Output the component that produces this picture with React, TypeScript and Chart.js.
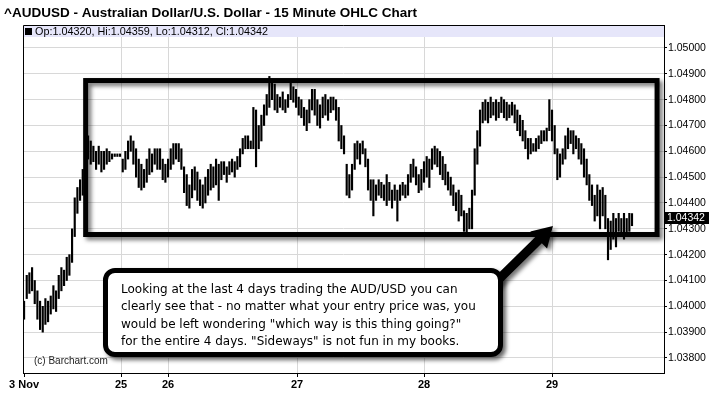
import React, { useEffect, useRef } from "react";
import { Chart, registerables } from "chart.js";

Chart.register(...registerables);

const chartTitle = "^AUDUSD - Australian Dollar/U.S. Dollar - 15 Minute OHLC Chart";
const copyright = "(c) Barchart.com";

// x positions are bar indices (each bar ~ 30 minutes)
const dayTickPos = [0, 36.4, 54, 102.4, 150, 198];
const dayTickLabels = ["3 Nov", "25", "26", "27", "28", "29"];

const priceTicks = [1.038, 1.039, 1.04, 1.041, 1.042, 1.043, 1.044, 1.045, 1.046, 1.047, 1.048, 1.049, 1.05];
const yMin = 1.037419;
const yMax = 1.05089;

const highs = [
  1.0402, 1.0412, 1.0413, 1.0415, 1.041, 1.0406, 1.0402, 1.04, 1.0403, 1.0402,
  1.0404, 1.0408, 1.0406, 1.0412, 1.0415, 1.0414, 1.0419, 1.042, 1.043, 1.0442,
  1.0446, 1.0449, 1.0453, 1.0464, 1.0466, 1.0464, 1.0462, 1.046, 1.0462, 1.046,
  1.046, 1.0461, 1.046, 1.0459, 1.0459, 1.0459, 1.0459,
  1.0457, 1.046, 1.0464, 1.0466, 1.0464, 1.0461, 1.0457, 1.0455, 1.0453, 1.0457,
  1.0461, 1.0459, 1.0461, 1.0461, 1.0461, 1.0457, 1.0455,
  1.0457, 1.0461, 1.0463, 1.0463, 1.0463, 1.0461, 1.0454, 1.0451, 1.0447, 1.0453,
  1.0454, 1.0452, 1.0449, 1.0447, 1.045, 1.0453, 1.0455, 1.0454, 1.0457, 1.0455,
  1.0456, 1.0456, 1.0454, 1.0456, 1.0457, 1.0456, 1.0458, 1.0461, 1.0465, 1.0466,
  1.0466, 1.0464, 1.0477, 1.0476, 1.047, 1.0474, 1.0478, 1.0482, 1.0489, 1.0488,
  1.0486, 1.0482, 1.0481, 1.0483, 1.048, 1.0482, 1.0487, 1.0485, 1.0484,
  1.0481, 1.048, 1.0477, 1.0476, 1.048, 1.0484, 1.0484, 1.048, 1.0478, 1.0481,
  1.0482, 1.048, 1.0481, 1.0481, 1.048, 1.0477, 1.047, 1.0466, 1.0455, 1.0451,
  1.0455, 1.0463, 1.0464, 1.0463, 1.0464, 1.0461, 1.0457, 1.0449, 1.0449, 1.0447,
  1.0449, 1.0448, 1.0447, 1.0451, 1.0448, 1.0445, 1.0447, 1.0445, 1.0447, 1.0448,
  1.0447, 1.0451, 1.0455, 1.0457, 1.0454, 1.0451, 1.0453,
  1.0456, 1.0458, 1.0457, 1.0461, 1.0462, 1.0461, 1.046, 1.0458, 1.0455, 1.0452,
  1.045, 1.0447, 1.0444, 1.0445, 1.0443, 1.0437, 1.0436, 1.0438, 1.0445, 1.0461,
  1.0468, 1.0476, 1.0479, 1.048, 1.0479, 1.0481, 1.0479, 1.048, 1.0479, 1.0481,
  1.048, 1.0479, 1.0478, 1.0479, 1.0478, 1.0476, 1.0474, 1.0472, 1.0468, 1.0465,
  1.0465, 1.0463, 1.0465, 1.0466, 1.0468, 1.0468, 1.0469, 1.048,
  1.0476, 1.047, 1.0461, 1.0459, 1.0461, 1.0466, 1.0469, 1.0468, 1.0468, 1.0466,
  1.0465, 1.0463, 1.0461, 1.0457, 1.0451, 1.0447, 1.0443, 1.0447, 1.0445, 1.0446,
  1.0443, 1.0434, 1.0433, 1.0436, 1.0434, 1.0436, 1.0434, 1.0436, 1.0434, 1.0436,
  1.04359,
];

const lows = [
  1.0395, 1.0403, 1.0405, 1.0406, 1.0401, 1.0395, 1.0391, 1.039, 1.0393, 1.0394,
  1.0397, 1.0399, 1.0398, 1.0403, 1.0406, 1.0408, 1.041, 1.0412, 1.0417, 1.0427,
  1.0436, 1.0441, 1.0443, 1.0449, 1.0457, 1.0455, 1.0456, 1.0453, 1.0455, 1.0452,
  1.0453, 1.0455, 1.0456, 1.0457, 1.0458, 1.0458, 1.0458,
  1.0452, 1.0453, 1.0457, 1.046, 1.0455, 1.045, 1.0446, 1.0445, 1.0446, 1.0448,
  1.0451, 1.0452, 1.0455, 1.0453, 1.0453, 1.0449, 1.0448,
  1.045, 1.0453, 1.0455, 1.0457, 1.0456, 1.0453, 1.0444, 1.0439, 1.0438, 1.0442,
  1.0445, 1.0441, 1.0439, 1.0438, 1.044, 1.0443, 1.0445, 1.0446, 1.0447, 1.0441,
  1.0449, 1.0451, 1.0448, 1.0451, 1.0452, 1.045, 1.0453, 1.0454, 1.0459, 1.0461,
  1.0461, 1.0461, 1.0461, 1.0454, 1.0461, 1.0464, 1.047, 1.0474, 1.0477, 1.048,
  1.0476, 1.0475, 1.0477, 1.0476, 1.0475, 1.0477, 1.048, 1.0479, 1.0477,
  1.0474, 1.0473, 1.047, 1.0468, 1.0471, 1.0476, 1.0474, 1.047, 1.0469, 1.0473,
  1.0474, 1.0472, 1.0475, 1.0476, 1.0472, 1.0464, 1.0461, 1.0459, 1.0443, 1.0442,
  1.0445, 1.0453, 1.0457, 1.0455, 1.0459, 1.0454, 1.0445, 1.0441, 1.0435, 1.0441,
  1.0443, 1.0442, 1.0441, 1.0439, 1.0441, 1.0438, 1.0441, 1.0433, 1.0441, 1.0443,
  1.0442, 1.0443, 1.0448, 1.045, 1.0447, 1.0444, 1.0445,
  1.0448, 1.045, 1.0446, 1.0453, 1.0455, 1.0454, 1.0451, 1.0449, 1.0447, 1.0445,
  1.0443, 1.0439, 1.0437, 1.0433, 1.0435, 1.0429, 1.0427, 1.043, 1.043, 1.0443,
  1.0455, 1.0462, 1.0471, 1.0472, 1.0471, 1.0473, 1.0474, 1.0472, 1.0473, 1.0475,
  1.0473, 1.0472, 1.0473, 1.0474, 1.0471, 1.0468, 1.0466, 1.0464, 1.0461, 1.0457,
  1.0459, 1.046, 1.046, 1.0461, 1.0463, 1.0464, 1.0464, 1.0468,
  1.0464, 1.0459, 1.0449, 1.045, 1.0455, 1.0457, 1.0461, 1.0463, 1.0459, 1.0461,
  1.0457, 1.0455, 1.045, 1.0447, 1.0441, 1.0439, 1.0433, 1.0435, 1.043, 1.0435,
  1.043, 1.0418, 1.0422, 1.0426, 1.0423, 1.0429, 1.0428, 1.0426, 1.0427, 1.0429,
  1.04312,
];

const lastOpen = 1.0432;
const lastHigh = 1.04359;
const lastLow = 1.04312;
const lastClose = 1.04342;

const calloutLines = [
  "Looking at the last 4 days trading the AUD/USD you can",
  "clearly see that - no matter what your entry price was, you",
  'would be left wondering "which way is this thing going?"',
  'for the entire 4 days. "Sideways" is not fun in my books.',
];

// annotation geometry in data units (bar index, price)
const rangeBox = { x0: 23.1, x1: 237.4, y0: 1.04278, y1: 1.04874 };
const arrowTail = { x: 174.7, y: 1.04071 };
const arrowTip = { x: 198.35, y: 1.04311 };

const SANS = "'Liberation Sans', Arial, sans-serif";

export default function App() {
  const ref = useRef<HTMLCanvasElement>(null);

  useEffect(() => {
    const canvas = ref.current;
    if (!canvas) return;
    const points = highs.map((h, i) => ({ x: i, y: [lows[i], h] }));

    const overlay = {
      id: "overlay",
      afterDraw(chart: any) {
        const ctx = chart.ctx as CanvasRenderingContext2D;
        const { left, right, top, bottom } = chart.chartArea;
        const xs = chart.scales.x;
        const ys = chart.scales.y;
        ctx.save();

        // legend strip
        ctx.fillStyle = "#e6e6fa";
        ctx.fillRect(left, top, right - left, 12);
        // frame (left + top)
        ctx.strokeStyle = "#000";
        ctx.lineWidth = 1;
        ctx.beginPath();
        ctx.moveTo(left + 0.5, bottom);
        ctx.lineTo(left + 0.5, top + 0.5);
        ctx.lineTo(right, top + 0.5);
        ctx.stroke();

        // legend square + text
        ctx.fillStyle = "#000";
        ctx.fillRect(left + 2, top + 3, 7, 7);
        ctx.font = `10.8px ${SANS}`;
        ctx.textBaseline = "alphabetic";
        ctx.textAlign = "left";
        ctx.fillText(
          `Op:${lastOpen.toFixed(5)}, Hi:${lastHigh.toFixed(5)}, Lo:${lastLow.toFixed(5)}, Cl:${lastClose.toFixed(5)}`,
          left + 12,
          top + 10
        );

        // title
        ctx.font = `bold 13.5px ${SANS}`;
        ctx.fillText(chartTitle, 4, 17);

        // copyright
        ctx.font = `10px ${SANS}`;
        ctx.fillStyle = "#222";
        ctx.fillText(copyright, 34, 364);

        // last price label
        const py = ys.getPixelForValue(lastClose);
        ctx.fillStyle = "#000";
        ctx.fillRect(right + 1, Math.round(py) - 6, 44, 12);
        ctx.fillStyle = "#fff";
        ctx.font = `10.5px ${SANS}`;
        ctx.textBaseline = "middle";
        ctx.fillText(lastClose.toFixed(5), right + 3, Math.round(py) + 0.5);

        // range box
        const bx0 = xs.getPixelForValue(rangeBox.x0);
        const bx1 = xs.getPixelForValue(rangeBox.x1);
        const by0 = ys.getPixelForValue(rangeBox.y1);
        const by1 = ys.getPixelForValue(rangeBox.y0);
        ctx.save();
        ctx.shadowColor = "rgba(0,0,0,0.55)";
        ctx.shadowBlur = 4;
        ctx.shadowOffsetX = 3;
        ctx.shadowOffsetY = 3;
        ctx.strokeStyle = "#000";
        ctx.lineWidth = 5;
        ctx.strokeRect(bx0, by0, bx1 - bx0, by1 - by0);
        ctx.restore();

        // arrow
        const tx = xs.getPixelForValue(arrowTail.x);
        const ty = ys.getPixelForValue(arrowTail.y);
        const hx = xs.getPixelForValue(arrowTip.x);
        const hy = ys.getPixelForValue(arrowTip.y);
        const dx = hx - tx;
        const dy = hy - ty;
        const len = Math.hypot(dx, dy);
        const ux = dx / len;
        const uy = dy / len;
        const nx = -uy;
        const ny = ux;
        const shaft = 9;
        const headLen = 20;
        const headW = 24;
        const neckX = hx - ux * headLen;
        const neckY = hy - uy * headLen;
        ctx.save();
        ctx.shadowColor = "rgba(0,0,0,0.55)";
        ctx.shadowBlur = 4;
        ctx.shadowOffsetX = 3;
        ctx.shadowOffsetY = 3;
        ctx.fillStyle = "#000";
        ctx.beginPath();
        ctx.moveTo(tx + nx * shaft / 2, ty + ny * shaft / 2);
        ctx.lineTo(neckX + nx * shaft / 2, neckY + ny * shaft / 2);
        ctx.lineTo(neckX + nx * headW / 2, neckY + ny * headW / 2);
        ctx.lineTo(hx, hy);
        ctx.lineTo(neckX - nx * headW / 2, neckY - ny * headW / 2);
        ctx.lineTo(neckX - nx * shaft / 2, neckY - ny * shaft / 2);
        ctx.lineTo(tx - nx * shaft / 2, ty - ny * shaft / 2);
        ctx.closePath();
        ctx.fill();
        ctx.restore();

        ctx.restore();
      },
    };

    const chart = new Chart(canvas, {
      type: "bar",
      data: {
        datasets: [
          {
            data: points as any,
            backgroundColor: "#000",
            borderWidth: 0,
            barThickness: 1.5,
            grouped: false,
          } as any,
        ],
      },
      options: {
        animation: false,
        responsive: false,
        devicePixelRatio: 1,
        layout: { padding: { left: 23, top: 25, right: 0, bottom: 0 } },
        plugins: {
          legend: { display: false },
          tooltip: { enabled: false },
          title: { display: false },
        },
        scales: {
          x: {
            type: "linear",
            offset: false,
            min: -0.4,
            max: 240,
            afterBuildTicks: (s: any) => {
              s.ticks = dayTickPos.map((v) => ({ value: v }));
            },
            afterFit: (s: any) => {
              s.height = 26;
            },
            ticks: {
              autoSkip: false,
              maxRotation: 0,
              color: "#000",
              padding: 1,
              font: { family: SANS, size: 11, weight: "bold" },
              callback: (_v: any, i: number) => dayTickLabels[i],
            },
            grid: {
              offset: false,
              color: (c: any) => (c.index === 0 ? "rgba(0,0,0,0)" : "#d8d8d8"),
              tickColor: "#000",
              tickLength: 4,
            },
            border: { color: "#000" },
          } as any,
          y: {
            position: "right",
            min: yMin,
            max: yMax,
            afterBuildTicks: (s: any) => {
              s.ticks = priceTicks.map((v) => ({ value: v }));
            },
            afterFit: (s: any) => {
              s.width = 46;
            },
            ticks: {
              color: "#000",
              padding: 1,
              font: { family: SANS, size: 10.5 },
              callback: (v: any) => Number(v).toFixed(5),
            },
            grid: { color: "#d8d8d8", tickColor: "#000", tickLength: 3 },
            border: { color: "#000" },
          } as any,
        },
      } as any,
      plugins: [overlay],
    });
    return () => chart.destroy();
  }, []);

  return (
    <div style={{ position: "absolute", left: 0, top: 0, width: 710, height: 399, background: "#fff" }}>
      <canvas ref={ref} width={710} height={399} style={{ display: "block" }} />
      <div
        style={{
          position: "absolute",
          left: 103,
          top: 268,
          width: 400,
          height: 89,
          boxSizing: "border-box",
          border: "5px solid #000",
          borderRadius: 12,
          background: "#fff",
          boxShadow: "3px 3px 4px rgba(0,0,0,0.6)",
          padding: "8px 0 0 13px",
          fontFamily: "'DejaVu Sans', Verdana, sans-serif",
          fontSize: 12,
          lineHeight: "17.3px",
          color: "#000",
          whiteSpace: "nowrap",
        }}
      >
        {calloutLines.map((l, i) => (
          <div key={i}>{l}</div>
        ))}
      </div>
    </div>
  );
}
